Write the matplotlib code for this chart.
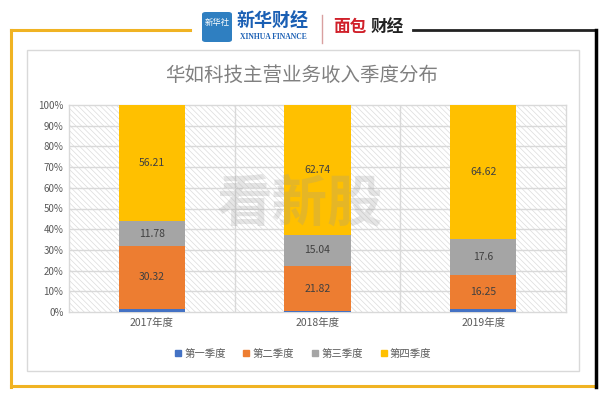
import matplotlib.pyplot as plt
from matplotlib.patches import Rectangle, FancyBboxPatch
from matplotlib.lines import Line2D

plt.rcParams['font.family'] = ['Noto Sans CJK SC', 'DejaVu Sans']
plt.rcParams['hatch.linewidth'] = 0.5

# data
years = ['2017年度', '2018年度', '2019年度']
series_names = ['第一季度', '第二季度', '第三季度', '第四季度']
q1 = [1.69, 0.40, 1.53]
q2 = [30.32, 21.82, 16.25]
q3 = [11.78, 15.04, 17.6]
q4 = [56.21, 62.74, 64.62]
q_labels = [None, ['30.32', '21.82', '16.25'], ['11.78', '15.04', '17.6'], ['56.21', '62.74', '64.62']]
colors = ['#4472C4', '#ED7D31', '#A5A5A5', '#FFC000']
yticks = [0, 10, 20, 30, 40, 50, 60, 70, 80, 90, 100]

W, H = 606, 398
fig = plt.figure(figsize=(W / 100, H / 100), dpi=100)

def px(x, y):
    return x / W, 1 - y / H

# outer frame
gold = '#F0B323'
fig.add_artist(Line2D([px(11, 0)[0], px(190, 0)[0]], [px(0, 30)[1]] * 2, color=gold, lw=2.2))
fig.add_artist(Line2D([px(11, 0)[0]] * 2, [px(0, 30)[1], px(0, 387)[1]], color=gold, lw=2.2))
fig.add_artist(Line2D([px(11, 0)[0], px(596, 0)[0]], [px(0, 386)[1]] * 2, color=gold, lw=2.2))
fig.add_artist(Line2D([px(413, 0)[0], px(596, 0)[0]], [px(0, 30)[1]] * 2, color='#222222', lw=2))
fig.add_artist(Line2D([px(596, 0)[0]] * 2, [px(0, 30)[1], px(0, 387)[1]], color='black', lw=2.5))

# inner chart box
x0, y0 = px(27, 371)
x1, y1 = px(579, 50)
fig.add_artist(Rectangle((x0, y0), x1 - x0, y1 - y0, transform=fig.transFigure,
                         fill=False, edgecolor='#d9d9d9', lw=1))

# header logos (approximation)
bx, by = px(202, 42)
fig.add_artist(FancyBboxPatch((bx, by), 30 / W, 30 / H, boxstyle='round,pad=0,rounding_size=0.006',
                              transform=fig.transFigure, facecolor='#2f7fc1', edgecolor='none'))
fig.text(*px(217, 22), '新华社', fontsize=6, color='white', ha='center', va='center')
fig.text(*px(273, 21), '新华财经', fontsize=13, color='#1a5fb4', ha='center', va='center',
         style='italic', fontweight='bold')
fig.text(*px(273, 37), 'XINHUA FINANCE', fontsize=5.5, color='#1a5fb4', ha='center', va='center',
         family='Liberation Serif', fontweight='bold')
fig.add_artist(Line2D([px(322, 0)[0]] * 2, [px(0, 15)[1], px(0, 43)[1]], color='#d9a0a0', lw=1))
fig.text(*px(350, 27), '面包', fontsize=12, color='#d0202a', ha='center', va='center', fontweight='bold')
fig.text(*px(387, 27), '财经', fontsize=12, color='#222222', ha='center', va='center', fontweight='bold')

# title
fig.text(*px(302, 75), '华如科技主营业务收入季度分布', fontsize=14, color='#808080',
         ha='center', va='center')

# plot area
ax = fig.add_axes([69 / W, 1 - 312 / H, 497 / W, 207 / H])
ax.add_patch(Rectangle((0, 0), 1, 1, transform=ax.transAxes, facecolor='white',
                       edgecolor='#dcdcdc', hatch='\\\\\\\\\\\\', lw=0, zorder=0))
for sp in ax.spines.values():
    sp.set_color('#d9d9d9')
    sp.set_linewidth(1)

xs = range(len(years))
bottom = [0, 0, 0]
for i, vals in enumerate([q1, q2, q3, q4]):
    bars = ax.bar(xs, vals, width=0.4, bottom=bottom, color=colors[i], zorder=3, label=series_names[i])
    if q_labels[i] is not None:
        for b, lab, bt, v in zip(xs, q_labels[i], bottom, vals):
            ax.text(b, bt + v / 2, lab, ha='center', va='center', fontsize=7.5, color='#404040', zorder=4)
    bottom = [a + b for a, b in zip(bottom, vals)]

ax.set_xlim(-0.5, 2.5)
ax.set_ylim(0, 100)
ax.set_yticks(yticks)
ax.set_yticklabels([f'{t}%' for t in yticks], fontsize=7, color='#595959')
ax.set_xticks(list(xs))
ax.set_xticklabels(years, fontsize=7.5, color='#595959')
ax.tick_params(length=0, pad=4)
for t in yticks[1:-1]:
    ax.axhline(t, color='#d9d9d9', lw=1, zorder=1)
for v in [0.5, 1.5]:
    ax.axvline(v, color='#d9d9d9', lw=1, zorder=1)

# watermark
fig.text(*px(300, 205), '看新股', fontsize=40, color='#9a9a9a', alpha=0.25, ha='center', va='center',
         style='italic', fontweight='bold', zorder=10)

# legend
handles = [Line2D([], [], marker='s', linestyle='none', markersize=5, color=c) for c in colors]
fig.legend(handles, series_names, loc='center', bbox_to_anchor=px(302, 354), ncol=4, frameon=False,
           fontsize=7.5, labelcolor='#595959', handletextpad=0.1, columnspacing=1.5, handlelength=1)

fig.savefig('out.png', dpi=100)
